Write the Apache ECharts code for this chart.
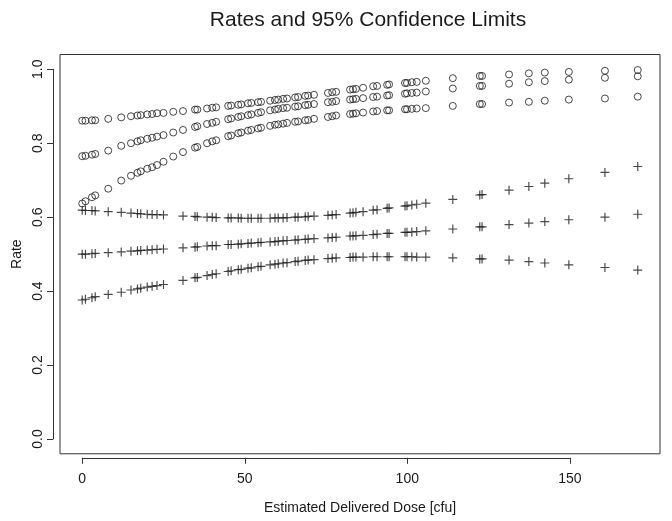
<!DOCTYPE html>
<html>
<head>
<meta charset="utf-8">
<script src="https://cdn.jsdelivr.net/npm/echarts@6/dist/echarts.min.js"></script>
<style>
html,body{margin:0;padding:0;background:#fff;}
#chart{width:672px;height:521px;}
</style>
</head>
<body>
<div id="chart"></div>
<script>
// ---- data ----
const xTickValues = [0, 50, 100, 150];
const yTickValues = [0.0, 0.2, 0.4, 0.6, 0.8, 1.0];

const circleDose = [0, 1, 3, 4, 8, 12, 15, 17, 18, 20, 21.5, 23, 25, 28, 31, 34.7, 35.4, 38.4, 40, 41.2, 44.9, 45.8, 48, 48.9, 51, 52, 54.1, 55, 57.8, 59.3, 60.3, 61.8, 63, 65.5, 66.4, 68.6, 69.5, 71.3, 75.6, 76.9, 78.1, 82.4, 83.3, 84.2, 86.4, 89.5, 90.7, 93.8, 94.4, 99.3, 99.9, 101.4, 102.9, 105.7, 114, 122.3, 123, 131.3, 137.4, 142.3, 149.7, 160.8, 170.9];
const circleUpper = [0.861, 0.861, 0.862, 0.862, 0.866, 0.870, 0.873, 0.875, 0.876, 0.878, 0.879, 0.881, 0.882, 0.885, 0.887, 0.891, 0.891, 0.894, 0.896, 0.897, 0.901, 0.902, 0.904, 0.905, 0.908, 0.909, 0.911, 0.912, 0.915, 0.917, 0.918, 0.920, 0.921, 0.924, 0.925, 0.928, 0.929, 0.931, 0.936, 0.938, 0.939, 0.945, 0.946, 0.947, 0.950, 0.954, 0.955, 0.958, 0.959, 0.963, 0.963, 0.965, 0.966, 0.969, 0.976, 0.982, 0.982, 0.986, 0.989, 0.991, 0.993, 0.996, 0.998];
const circleRate = [0.765, 0.766, 0.769, 0.771, 0.780, 0.793, 0.800, 0.805, 0.808, 0.812, 0.815, 0.818, 0.822, 0.829, 0.836, 0.844, 0.846, 0.852, 0.855, 0.858, 0.865, 0.867, 0.871, 0.873, 0.876, 0.878, 0.882, 0.884, 0.889, 0.891, 0.893, 0.895, 0.896, 0.899, 0.900, 0.903, 0.904, 0.906, 0.911, 0.912, 0.914, 0.918, 0.919, 0.920, 0.922, 0.925, 0.926, 0.929, 0.930, 0.934, 0.935, 0.936, 0.937, 0.940, 0.948, 0.955, 0.955, 0.961, 0.965, 0.968, 0.972, 0.977, 0.981];
const circleLower = [0.637, 0.643, 0.654, 0.659, 0.677, 0.699, 0.712, 0.720, 0.724, 0.731, 0.735, 0.741, 0.750, 0.764, 0.776, 0.788, 0.790, 0.800, 0.805, 0.808, 0.819, 0.821, 0.827, 0.829, 0.834, 0.836, 0.840, 0.842, 0.847, 0.850, 0.851, 0.853, 0.855, 0.858, 0.859, 0.862, 0.863, 0.866, 0.871, 0.873, 0.875, 0.879, 0.880, 0.881, 0.883, 0.886, 0.887, 0.889, 0.889, 0.892, 0.892, 0.893, 0.894, 0.895, 0.901, 0.906, 0.906, 0.910, 0.912, 0.915, 0.918, 0.921, 0.926];

const plusDose = [0, 1, 3, 4, 8, 12, 15, 17, 18, 20, 21.5, 23, 25, 31, 34.7, 35.4, 38.4, 40, 41.2, 44.9, 45.8, 48, 48.9, 51, 52, 54.1, 55, 57.8, 59.3, 60.3, 61.8, 63, 65.5, 66.4, 68.6, 69.5, 71.3, 75.6, 76.9, 78.1, 82.4, 83.3, 84.2, 86.4, 89.5, 90.7, 93.8, 94.4, 99.3, 99.9, 101.4, 102.9, 105.7, 114, 122.3, 123, 131.3, 137.4, 142.3, 149.7, 160.8, 170.9];
const plusUpper = [0.619, 0.618, 0.618, 0.617, 0.615, 0.613, 0.611, 0.610, 0.609, 0.608, 0.607, 0.607, 0.606, 0.603, 0.602, 0.601, 0.600, 0.600, 0.599, 0.598, 0.598, 0.598, 0.597, 0.597, 0.597, 0.597, 0.597, 0.597, 0.598, 0.598, 0.598, 0.599, 0.600, 0.600, 0.601, 0.602, 0.603, 0.605, 0.606, 0.607, 0.611, 0.612, 0.613, 0.615, 0.619, 0.620, 0.624, 0.625, 0.630, 0.631, 0.633, 0.635, 0.638, 0.648, 0.660, 0.661, 0.673, 0.683, 0.692, 0.704, 0.721, 0.737];
const plusRate = [0.500, 0.500, 0.501, 0.502, 0.504, 0.506, 0.508, 0.509, 0.510, 0.511, 0.512, 0.513, 0.514, 0.517, 0.519, 0.520, 0.522, 0.523, 0.523, 0.526, 0.526, 0.527, 0.528, 0.529, 0.530, 0.531, 0.532, 0.533, 0.534, 0.535, 0.536, 0.537, 0.538, 0.539, 0.540, 0.541, 0.542, 0.544, 0.545, 0.546, 0.549, 0.549, 0.550, 0.551, 0.553, 0.554, 0.556, 0.556, 0.559, 0.559, 0.560, 0.561, 0.563, 0.568, 0.574, 0.574, 0.580, 0.584, 0.588, 0.593, 0.600, 0.608];
const plusLower = [0.376, 0.378, 0.382, 0.385, 0.391, 0.397, 0.403, 0.406, 0.408, 0.411, 0.413, 0.415, 0.418, 0.429, 0.436, 0.437, 0.442, 0.445, 0.447, 0.453, 0.455, 0.458, 0.459, 0.462, 0.463, 0.466, 0.467, 0.471, 0.473, 0.474, 0.476, 0.477, 0.480, 0.481, 0.483, 0.484, 0.485, 0.488, 0.489, 0.490, 0.491, 0.492, 0.492, 0.492, 0.493, 0.493, 0.493, 0.493, 0.493, 0.493, 0.493, 0.492, 0.492, 0.490, 0.487, 0.487, 0.484, 0.480, 0.476, 0.471, 0.464, 0.457];

// ---- layout ----
const box = { left: 60, top: 54.5, width: 600, height: 399.3 };
const xRange = [-6.836, 177.74];
const yRange = [-0.04, 1.04];
const px = v => box.left + (v - xRange[0]) / (xRange[1] - xRange[0]) * box.width;
const py = v => box.top + (yRange[1] - v) / (yRange[1] - yRange[0]) * box.height;
const xT0 = xTickValues[0], xT1 = xTickValues[xTickValues.length - 1];
const yT0 = yTickValues[0], yT1 = yTickValues[yTickValues.length - 1];
const xAxisLineY = box.top + box.height + 4;   // detached x axis, just below the box
const yAxisLineX = box.left - 7;               // detached y axis, just left of the box

const FONT = '"Liberation Sans", Arial, sans-serif';
const INK = '#1a1a1a';
const PLUS = 'path://M4.35,0H5.65V4.35H10V5.65H5.65V10H4.35V5.65H0V4.35H4.35Z';

const zip = (xs, ys) => xs.map((x, i) => [x, ys[i]]);
const circleSeries = ys => ({
  type: 'scatter', xAxisIndex: 0, yAxisIndex: 0, silent: true,
  data: zip(circleDose, ys), symbol: 'circle', symbolSize: 7,
  itemStyle: { color: 'rgba(0,0,0,0)', borderColor: INK, borderWidth: 1 }
});
const plusSeries = ys => ({
  type: 'scatter', xAxisIndex: 0, yAxisIndex: 0, silent: true,
  data: zip(plusDose, ys), symbol: PLUS, symbolSize: 9,
  itemStyle: { color: INK }
});
const hidden = gi => ({ gridIndex: gi, type: 'value', show: false, min: 0, max: 1 });

const chart = echarts.init(document.getElementById('chart'), null, { renderer: 'canvas' });
chart.setOption({
  animation: false,
  backgroundColor: '#ffffff',
  textStyle: { fontFamily: FONT },
  title: {
    text: 'Rates and 95% Confidence Limits',
    left: box.left + box.width / 2 + 3, top: 5, textAlign: 'center',
    textStyle: { fontSize: 21, fontWeight: 'normal', color: INK, fontFamily: FONT }
  },
  grid: [
    { left: box.left, top: box.top, width: box.width, height: box.height, show: true,
      borderColor: '#333', borderWidth: 1, backgroundColor: 'rgba(0,0,0,0)',
      containLabel: false, outerBoundsMode: 'none' },
    { left: px(xT0), width: px(xT1) - px(xT0), top: xAxisLineY - 10, height: 10,
      containLabel: false, outerBoundsMode: 'none' },
    { left: yAxisLineX, width: 10, top: py(yT1), height: py(yT0) - py(yT1),
      containLabel: false, outerBoundsMode: 'none' }
  ],
  xAxis: [
    { gridIndex: 0, type: 'value', min: xRange[0], max: xRange[1],
      axisLine: { show: false }, axisTick: { show: false }, axisLabel: { show: false }, splitLine: { show: false },
      name: 'Estimated Delivered Dose [cfu]', nameLocation: 'middle', nameGap: 47,
      nameTextStyle: { fontSize: 14, color: INK, fontFamily: FONT } },
    { gridIndex: 1, type: 'value', position: 'bottom', min: xT0, max: xT1,
      interval: xTickValues[1] - xTickValues[0],
      axisLine: { show: true, onZero: false, lineStyle: { color: '#333', width: 1 } },
      axisTick: { show: true, length: 6, lineStyle: { color: '#333', width: 1 } },
      axisLabel: { fontSize: 14, color: INK, margin: 14, fontFamily: FONT },
      splitLine: { show: false } },
    hidden(2)
  ],
  yAxis: [
    { gridIndex: 0, type: 'value', min: yRange[0], max: yRange[1],
      axisLine: { show: false }, axisTick: { show: false }, axisLabel: { show: false }, splitLine: { show: false },
      name: 'Rate', nameLocation: 'middle', nameGap: 36, nameRotate: 90,
      nameTextStyle: { fontSize: 14, color: INK, fontFamily: FONT } },
    hidden(1),
    { gridIndex: 2, type: 'value', position: 'left', min: yT0, max: yT1,
      interval: yTickValues[1] - yTickValues[0],
      axisLine: { show: true, onZero: false, lineStyle: { color: '#333', width: 1 } },
      axisTick: { show: true, length: 6, lineStyle: { color: '#333', width: 1 } },
      axisLabel: { fontSize: 14, color: INK, margin: 8, rotate: 90, fontFamily: FONT,
        formatter: v => Number(v).toFixed(1) },
      splitLine: { show: false } }
  ],
  series: [
    circleSeries(circleUpper), circleSeries(circleRate), circleSeries(circleLower),
    plusSeries(plusUpper), plusSeries(plusRate), plusSeries(plusLower)
  ]
});
</script>
</body>
</html>
